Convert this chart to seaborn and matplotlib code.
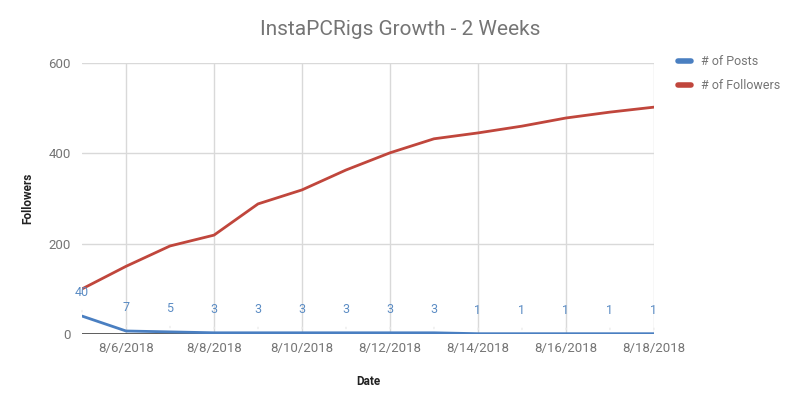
import matplotlib
matplotlib.use('Agg')
import matplotlib.pyplot as plt
import pandas as pd
import seaborn as sns
from matplotlib.lines import Line2D

# dados
datas = pd.date_range('2018-08-05', '2018-08-18', freq='D')
posts = [40, 7, 5, 3, 3, 3, 3, 3, 3, 1, 1, 1, 1, 1]
seguidores = [100, 150, 195, 219, 288, 319, 363, 401, 432, 445, 460, 478, 491, 502]
y_ticks = [0, 200, 400, 600]

df = pd.DataFrame({
    'Date': list(datas) * 2,
    'valor': posts + seguidores,
    'serie': ['# of Posts'] * len(posts) + ['# of Followers'] * len(seguidores),
})

sns.set_style('white')
plt.rcParams['font.family'] = ['Roboto', 'DejaVu Sans']

azul = '#4a7fc1'
vermelho = '#c0463c'
cinza = '#757575'

fig = plt.figure(figsize=(8.01, 4.08), dpi=100)
ax = fig.add_axes([0.1024, 0.181, 0.714, 0.665])

sns.lineplot(data=df, x='Date', y='valor', hue='serie',
             palette={'# of Posts': azul, '# of Followers': vermelho},
             linewidth=2, ax=ax, legend=False)

# rotulos dos posts
for d, p in zip(datas, posts):
    ax.annotate(str(p), xy=(d, p), xytext=(0, 17), textcoords='offset points',
                ha='center', va='center', fontsize=9, color='#5b8cc4',
                arrowprops=dict(arrowstyle='-', color='#ececec', lw=1,
                                shrinkA=6, shrinkB=3))

ax.set_xlim(datas[0], datas[-1])
ax.set_ylim(0, 600)
ax.set_yticks(y_ticks)
ax.set_xticks(datas[1::2])
ax.set_xticklabels([f'{d.month}/{d.day}/{d.year}' for d in datas[1::2]])
ax.grid(True, color='#d9d9d9', linewidth=1)
ax.axhline(0, color='#444444', linewidth=1.2, zorder=1)
for s in ax.spines.values():
    s.set_visible(False)
ax.tick_params(axis='both', length=0, labelsize=9.5, labelcolor=cinza)
ax.tick_params(axis='x', pad=6)
ax.tick_params(axis='y', pad=8)

ax.set_xlabel('Date', fontsize=8.5, fontweight='bold', color='#222222', labelpad=14)
ax.set_ylabel('Followers', fontsize=8.5, fontweight='bold', color='#222222', labelpad=10)

fig.suptitle('InstaPCRigs Growth - 2 Weeks', x=0.5, y=0.95, fontsize=15, color=cinza)

# legenda
handles = [Line2D([], [], color=azul, lw=4), Line2D([], [], color=vermelho, lw=4)]
fig.legend(handles, ['# of Posts', '# of Followers'], loc='upper left',
           bbox_to_anchor=(0.833, 0.893), frameon=False, fontsize=9,
           labelcolor=cinza, handlelength=1.0, handletextpad=0.8, labelspacing=0.9)

fig.savefig('out.png', dpi=100)
